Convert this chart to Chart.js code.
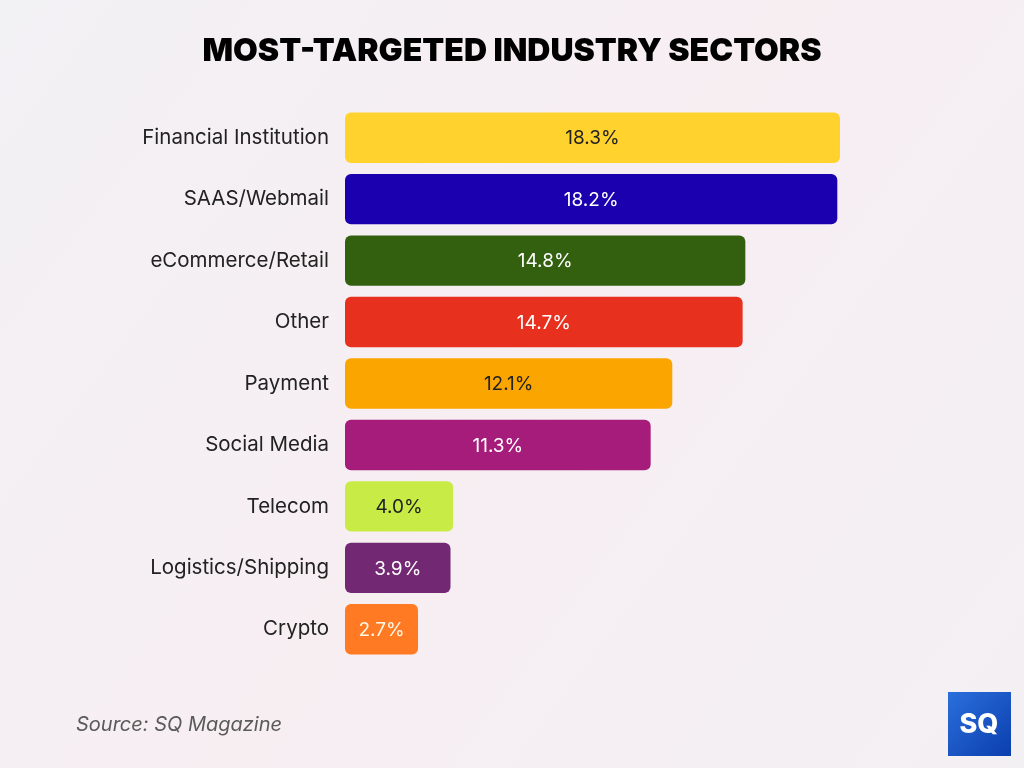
<!DOCTYPE html>
<html>
<head>
<meta charset="utf-8">
<script src="https://cdn.jsdelivr.net/npm/chart.js@4"></script>
<style>
  html, body { margin: 0; padding: 0; background: #f5f0f3; }
  #wrap { width: 1024px; height: 768px; position: relative; }
</style>
</head>
<body>
<div id="wrap"><canvas id="canvas" width="1024" height="768"></canvas></div>
<script>
var sectors = ['Financial Institution', 'SAAS/Webmail', 'eCommerce/Retail', 'Other', 'Payment',
  'Social Media', 'Telecom', 'Logistics/Shipping', 'Crypto'];
var shares = [18.3, 18.2, 14.8, 14.7, 12.1, 11.3, 4.0, 3.9, 2.7];
var barColors = ['#FFD22E', '#1A00AE', '#33600F', '#E8301F', '#FBA500',
  '#A61C7A', '#C9EB45', '#722872', '#FF7A22'];
var labelColors = ['#222', '#fff', '#fff', '#fff', '#222', '#fff', '#222', '#fff', '#fff8e8'];

// background, title, source and logo
var decor = {
  id: 'decor',
  beforeDraw: function(chart) {
    var c = chart.ctx, w = chart.width, h = chart.height;
    c.save();
    var g = c.createLinearGradient(0, 0, w, h);
    g.addColorStop(0, '#F2F1F4');
    g.addColorStop(0.5, '#F7EEF2');
    g.addColorStop(1, '#F3F0F4');
    c.fillStyle = g;
    c.fillRect(0, 0, w, h);
    c.restore();
  },
  afterDraw: function(chart) {
    var c = chart.ctx;
    c.save();
    c.fillStyle = '#000';
    c.textAlign = 'center';
    c.textBaseline = 'middle';
    c.font = '900 32px Inter';
    c.fillText('MOST-TARGETED INDUSTRY SECTORS', 512, 51);

    c.textAlign = 'left';
    c.fillStyle = '#5a5a5a';
    c.font = 'italic 20px Inter';
    c.fillText('Source: SQ Magazine', 76, 725);

    var lg = c.createLinearGradient(948, 692, 1010, 756);
    lg.addColorStop(0, '#2a6fdc');
    lg.addColorStop(1, '#0b3fae');
    c.fillStyle = lg;
    c.fillRect(948, 692, 63, 64);
    c.fillStyle = '#fff';
    c.textAlign = 'center';
    c.font = '800 27px Inter';
    c.fillText('SQ', 979, 725);
    c.restore();
  }
};

// value labels inside bars
var barText = {
  id: 'barText',
  afterDatasetsDraw: function(chart) {
    var c = chart.ctx;
    var meta = chart.getDatasetMeta(0);
    c.save();
    c.font = '19px Inter';
    c.textAlign = 'center';
    c.textBaseline = 'middle';
    meta.data.forEach(function(bar, i) {
      c.fillStyle = labelColors[i];
      c.fillText(shares[i].toFixed(1) + '%', (bar.base + bar.x) / 2, bar.y + 1);
    });
    c.restore();
  }
};

window.onload = function() {
  var ctx = document.getElementById('canvas').getContext('2d');
  new Chart(ctx, {
    type: 'bar',
    data: {
      labels: sectors,
      datasets: [{
        data: shares,
        backgroundColor: barColors,
        borderRadius: 6,
        borderSkipped: false,
        barPercentage: 0.82,
        categoryPercentage: 1
      }]
    },
    options: {
      indexAxis: 'y',
      responsive: false,
      animation: false,
      layout: { padding: { top: 107, bottom: 108, right: 138, left: 0 } },
      plugins: { legend: { display: false }, tooltip: { enabled: false } },
      scales: {
        x: { min: 0, max: 20, display: false },
        y: {
          grid: { display: false },
          border: { display: false },
          ticks: { color: '#222', font: { family: 'Inter', size: 20.5 }, padding: 8 },
          afterFit: function(scale) { scale.width = 345; }
        }
      }
    },
    plugins: [decor, barText]
  });
};
</script>
</body>
</html>
